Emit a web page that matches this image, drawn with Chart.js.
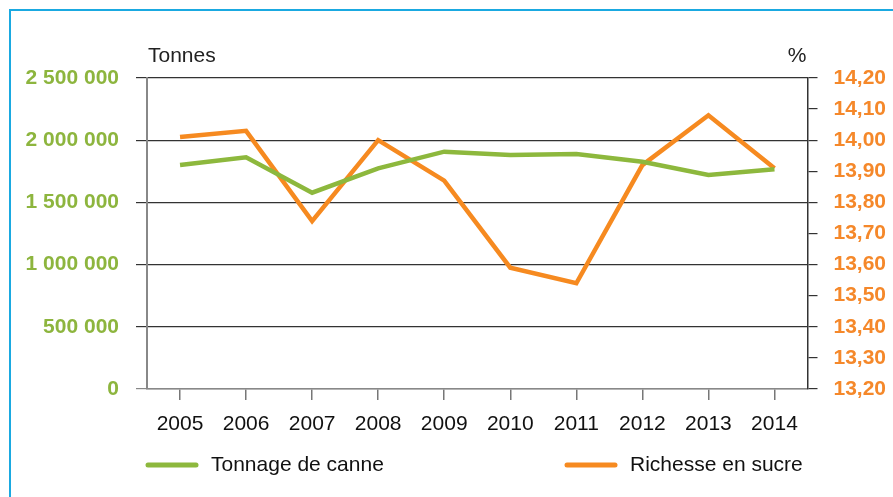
<!DOCTYPE html>
<html><head><meta charset="utf-8">
<script src="https://cdn.jsdelivr.net/npm/chart.js@4/dist/chart.umd.min.js"></script>
<style>
html,body{margin:0;padding:0;background:#fff;}
#wrap{position:relative;width:893px;height:497px;}
#frame{position:absolute;left:9px;top:9px;right:0;bottom:0;border-left:2px solid #1aa9e1;border-top:2px solid #1aa9e1;pointer-events:none;}
canvas{position:absolute;left:0;top:0;}
</style></head>
<body><div id="wrap"><canvas id="c" width="893" height="497"></canvas><div id="frame"></div></div>
<script>
const years = ['2005','2006','2007','2008','2009','2010','2011','2012','2013','2014'];
const tonnage = [1800000,1862000,1578000,1774000,1908000,1881000,1889000,1827000,1720000,1766000];
const richesse = [14.01,14.03,13.74,14.00,13.87,13.59,13.54,13.92,14.08,13.91];
const leftUnit = 'Tonnes';
const rightUnit = '%';
const seriesNames = ['Tonnage de canne','Richesse en sucre'];

const GREEN = '#8db83d', ORANGE = '#f68a20';
const FONT = 'Liberation Sans, Arial, sans-serif';

const extras = {
  id:'extras',
  afterDraw(chart){
    const ctx = chart.ctx, a = chart.chartArea;
    ctx.save();
    ctx.font = '21px ' + FONT;
    ctx.fillStyle = '#222';
    ctx.textBaseline = 'alphabetic';
    ctx.textAlign = 'left';
    ctx.fillText(leftUnit, a.left + 1, 62);
    ctx.textAlign = 'right';
    ctx.fillText(rightUnit, a.right - 1, 62);
    // legend
    const items = chart.data.datasets;
    const xs = [146, 565];
    const ly = 465;
    items.forEach((ds,i)=>{
      ctx.strokeStyle = ds.borderColor;
      ctx.lineWidth = 5;
      ctx.lineCap = 'round';
      ctx.beginPath();
      ctx.moveTo(xs[i]+2, ly); ctx.lineTo(xs[i]+50, ly); ctx.stroke();
      ctx.fillStyle = '#111';
      ctx.textAlign = 'left';
      ctx.textBaseline = 'middle';
      ctx.fillText(ds.label, xs[i]+65, ly);
    });
    ctx.restore();
  }
};

new Chart(document.getElementById('c'), {
  type:'line',
  data:{
    labels: years,
    datasets:[
      {label:seriesNames[0], data:tonnage, yAxisID:'y', borderColor:GREEN, backgroundColor:GREEN, borderWidth:4.5, pointRadius:0, tension:0, borderJoinStyle:'miter'},
      {label:seriesNames[1], data:richesse, yAxisID:'y1', borderColor:ORANGE, backgroundColor:ORANGE, borderWidth:4.5, pointRadius:0, tension:0, borderJoinStyle:'miter'}
    ]
  },
  options:{
    responsive:false,
    animation:false,
    devicePixelRatio:1,
    layout:{padding:{left:0, right:0, top:78, bottom:0}},
    plugins:{legend:{display:false}, tooltip:{enabled:false}},
    scales:{
      x:{
        offset:true,
        afterFit:s=>{s.height = 108;},
        grid:{drawOnChartArea:false, color:'#777', tickLength:11, lineWidth:1.5},
        border:{color:'#888', width:1.5},
        ticks:{color:'#111', font:{family:FONT, size:21}, padding:12, maxRotation:0}
      },
      y:{
        position:'left',
        min:0, max:2500000,
        afterFit:s=>{s.width = 147;},
        ticks:{stepSize:500000, color:'#8db53e', font:{family:FONT, size:21, weight:'bold'}, padding:17,
          callback:v=>String(v).replace(/\B(?=(\d{3})+(?!\d))/g,' ')},
        grid:{color:(c)=> c.index===0 ? '#888' : '#333', lineWidth:1.2, tickLength:11},
        border:{color:'#888', width:2}
      },
      y1:{
        position:'right',
        min:13.2, max:14.2,
        afterFit:s=>{s.width = 85.5;},
        ticks:{stepSize:0.1, color:'#f5882a', font:{family:FONT, size:21, weight:'bold'}, padding:16,
          callback:v=>Number(v).toFixed(2).replace('.',',')},
        grid:{drawOnChartArea:false, color:'#333', lineWidth:1.2, tickLength:10},
        border:{color:'#333', width:1.5}
      }
    }
  },
  plugins:[extras]
});
</script></body></html>
